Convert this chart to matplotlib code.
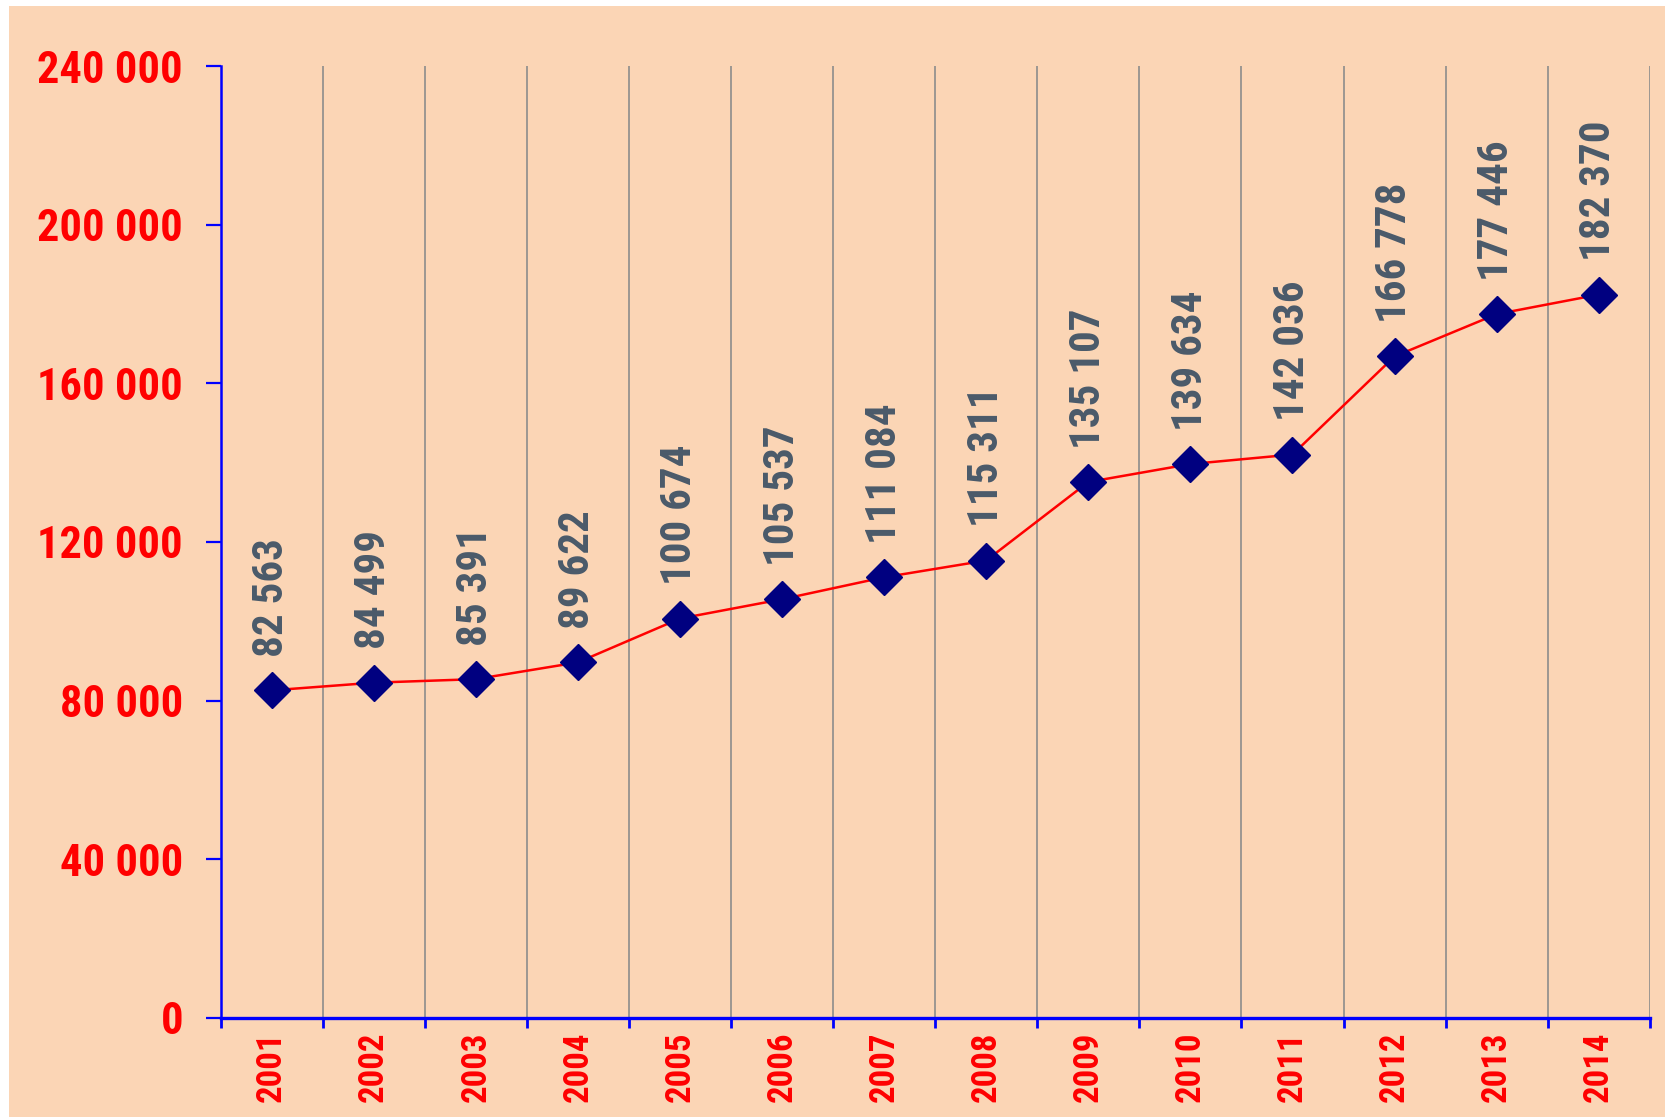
import matplotlib.pyplot as plt
from matplotlib.patches import Rectangle
from matplotlib.ticker import FuncFormatter

years = ['2001', '2002', '2003', '2004', '2005', '2006', '2007',
         '2008', '2009', '2010', '2011', '2012', '2013', '2014']
values = [82563, 84499, 85391, 89622, 100674, 105537, 111084,
          115311, 135107, 139634, 142036, 166778, 177446, 182370]
y_ticks = [0, 40000, 80000, 120000, 160000, 200000, 240000]

bg = '#FBD5B5'
plt.rcParams['font.family'] = ['Roboto Condensed', 'DejaVu Sans']

fig = plt.figure(figsize=(16.71, 11.20), dpi=100, facecolor='white')
# peach panel behind the chart
fig.patches.append(Rectangle((9 / 1671, 3 / 1120), 1656 / 1671, 1111 / 1120,
                             transform=fig.transFigure, facecolor=bg,
                             edgecolor='none', zorder=-5))

ax = fig.add_axes([0.132, 0.0913, 0.8553, 0.8497])
ax.set_zorder(2)
ax.set_facecolor(bg)

x = [i + 0.5 for i in range(len(years))]
ax.plot(x, values, color='#FF0000', lw=1.8, zorder=3)
ax.plot(x, values, linestyle='none', marker='D', ms=18.5,
        color='#000080', zorder=4)

for xi, v in zip(x, values):
    ax.annotate(f'{v:,}'.replace(',', ' '), (xi, v), xytext=(0, 24),
                textcoords='offset points', rotation=90, ha='center',
                va='bottom', fontsize=31, fontweight='bold', color='#4A5A6A')

ax.set_xlim(0, len(years))
ax.set_ylim(0, 240000)

ax.set_yticks(y_ticks)
ax.yaxis.set_major_formatter(FuncFormatter(lambda v, p: f'{int(v):,}'.replace(',', ' ')))
ax.tick_params(axis='y', direction='out', length=11, width=1.6, color='#0000FF',
               labelcolor='#FF0000', labelsize=32, pad=16)
for lab in ax.get_yticklabels():
    lab.set_fontweight('bold')

ax.set_xticks(range(len(years) + 1))
ax.set_xticklabels([])
ax.set_xticks(x, minor=True)
ax.set_xticklabels(years, minor=True, rotation=90, fontsize=25,
                   fontweight='bold', color='#FF0000')
ax.tick_params(axis='x', which='major', direction='out', length=7, width=2,
               color='#0000FF')
ax.tick_params(axis='x', which='minor', length=0, pad=10)

ax.grid(axis='x', which='major', color='#8C8C8C', lw=1.2, zorder=1)
ax.set_axisbelow(True)

ax.spines['top'].set_visible(False)
ax.spines['right'].set_visible(False)
ax.spines['left'].set_color('#0000FF')
ax.spines['left'].set_linewidth(1.8)
ax.spines['bottom'].set_color('#0000FF')
ax.spines['bottom'].set_linewidth(2.4)

fig.savefig('out.png', dpi=100, facecolor='white')
